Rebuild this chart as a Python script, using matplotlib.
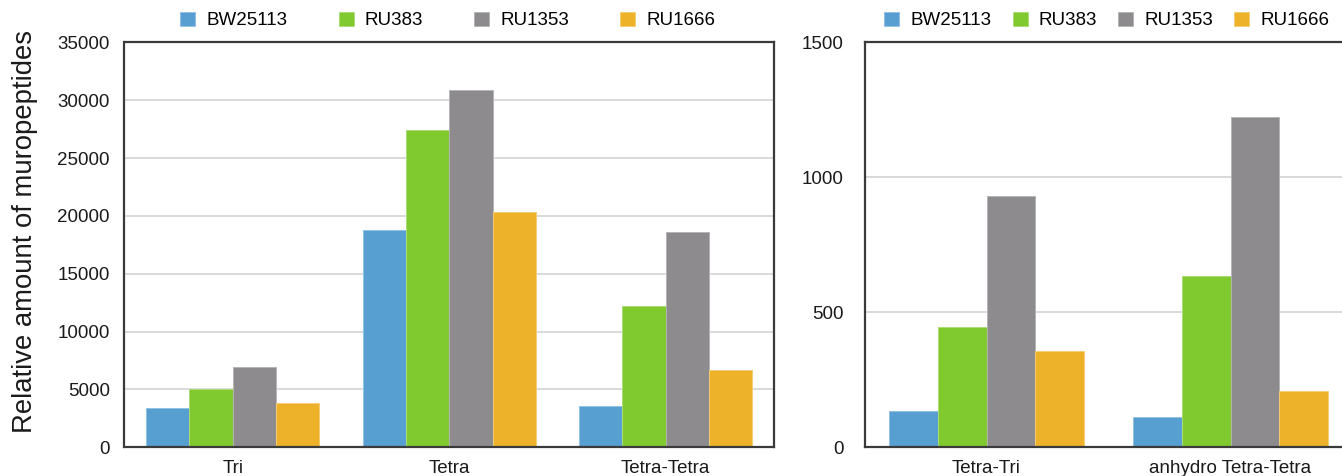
import numpy as np
import matplotlib
matplotlib.use("Agg")
import matplotlib.pyplot as plt
from matplotlib.colors import to_rgb

plt.rcParams['font.family'] = ['Liberation Sans', 'DejaVu Sans']

strains = ["BW25113", "RU383", "RU1353", "RU1666"]
colors = ["#579FD1", "#80C92E", "#8D8B8E", "#EEB12A"]

# Monomers and main dimer
cats_left = ["Tri", "Tetra", "Tetra-Tetra"]
left_bw25113 = [3390, 18810, 3600]
left_ru383 = [5000, 27390, 12250]
left_ru1353 = [6940, 30840, 18640]
left_ru1666 = [3820, 20370, 6650]

# Minor dimers
cats_right = ["Tetra-Tri", "anhydro Tetra-Tetra"]
right_bw25113 = [135, 114]
right_ru383 = [447, 635]
right_ru1353 = [932, 1223]
right_ru1666 = [357, 210]

left_ticks = [0, 5000, 10000, 15000, 20000, 25000, 30000, 35000]
right_ticks = [0, 500, 1000, 1500]

W, H = 1342, 476
fig = plt.figure(figsize=(W / 100, H / 100), dpi=100)

bottom = (H - 447.3) / H
height = 405.0 / H
ax1 = fig.add_axes([124.5 / W, bottom, 649.5 / W, height])
ax2 = fig.add_axes([864.5 / W, bottom, 488.0 / W, height])

FS = 13.5
spine_col = "#3a3a3a"


def lighten(c, f=0.35):
    r, g, b = to_rgb(c)
    return (r + (1 - r) * f, g + (1 - g) * f, b + (1 - b) * f)


def draw_panel(ax, cats, series, ticks, ypad):
    x = np.arange(len(cats))
    w = 0.2
    for i, (vals, name, col) in enumerate(zip(series, strains, colors)):
        ax.bar(x + (i - 1.5) * w, vals, width=w, color=col,
               edgecolor=lighten(col), linewidth=0.7, label=name, zorder=2)
    ax.set_xlim(-0.5, len(cats) - 0.5)
    ax.set_ylim(ticks[0], ticks[-1])
    ax.set_yticks(ticks)
    ax.set_yticklabels([str(t) for t in ticks])
    ax.set_xticks(x)
    ax.set_xticklabels(cats)
    ax.tick_params(axis="both", length=0, labelsize=FS, colors="#1a1a1a")
    ax.tick_params(axis="y", pad=ypad)
    ax.tick_params(axis="x", pad=9.5)
    ax.grid(axis="y", color="#d9d9d9", linewidth=1.4, zorder=0)
    ax.set_axisbelow(True)
    for s in ax.spines.values():
        s.set_color(spine_col)
        s.set_linewidth(1.6)
        s.set_zorder(3)


draw_panel(ax1, cats_left,
           [left_bw25113, left_ru383, left_ru1353, left_ru1666],
           left_ticks, 10.5)
draw_panel(ax2, cats_right,
           [right_bw25113, right_ru383, right_ru1353, right_ru1666],
           right_ticks, 15)

ax1.set_ylabel("Relative amount of muropeptides", fontsize=19.8,
               color="#1a1a1a")
ax1.yaxis.set_label_coords(-0.1335, 0.534)

leg_y = 1 - 20.5 / H
for ax, cx, colsp in [(ax1, 448.0 / W, 2.72), (ax2, 1107.0 / W, 1.12)]:
    ax.legend(loc="center", bbox_to_anchor=(cx, leg_y),
              bbox_transform=fig.transFigure, ncol=4, frameon=False,
              fontsize=FS, handlelength=0.8, handleheight=0.8,
              handletextpad=0.6, columnspacing=colsp, borderpad=0)

fig.savefig("out.png", dpi=100)
